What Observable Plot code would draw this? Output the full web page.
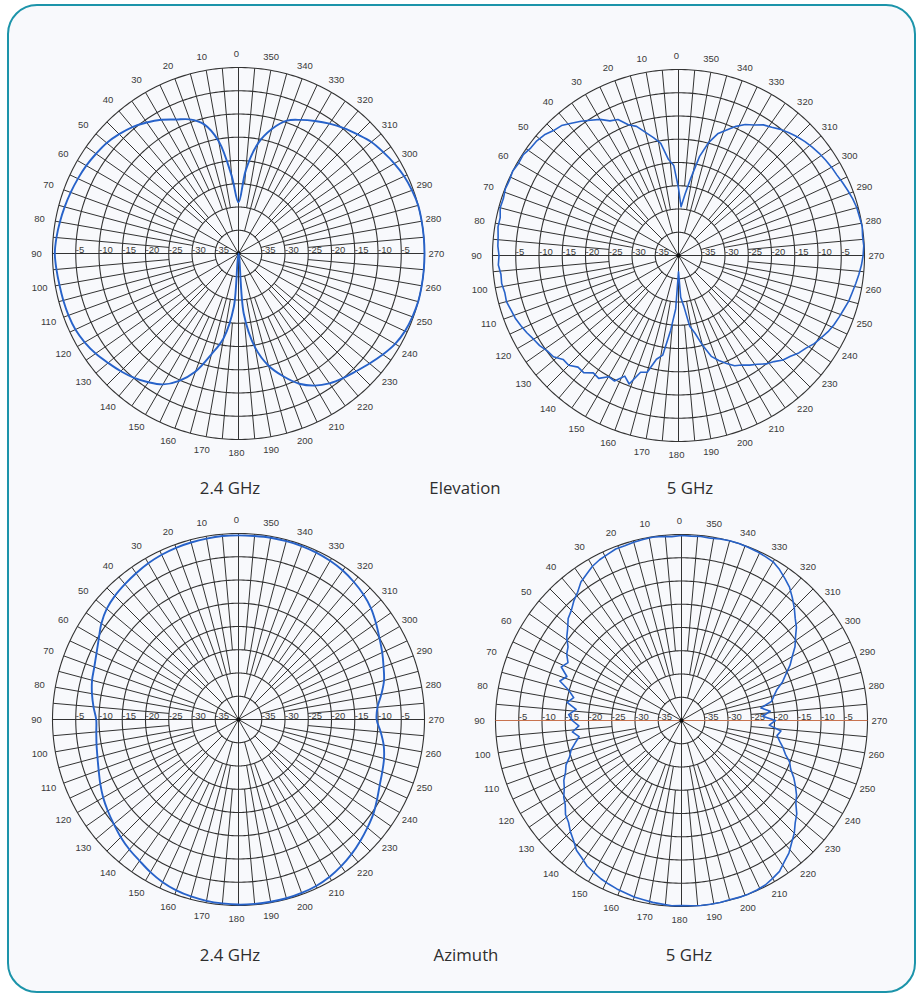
<!DOCTYPE html>
<html>
<head>
<meta charset="utf-8">
<script src="https://cdn.jsdelivr.net/npm/d3@7"></script>
<script src="https://cdn.jsdelivr.net/npm/@observablehq/plot@0.6"></script>
<style>
  html, body { margin: 0; padding: 0; background: #ffffff; }
  #page { position: relative; width: 916px; height: 994px; overflow: hidden; font-family: "Open Sans", sans-serif; }
  #frame { position: absolute; left: 7px; top: 4px; width: 909px; height: 989px; box-sizing: border-box;
           border: 2.5px solid #1c94aa; border-radius: 30px; background: #f8f9fc; }
  .chart { position: absolute; }
  .cap { position: absolute; font-size: 16.8px; color: #2e2e2e; transform: translate(-50%, -50%); white-space: nowrap; }
</style>
</head>
<body>
<div id="page"><div id="frame"></div></div>
<script>
// Antenna radiation patterns, relative gain in dB (0 dB at the rim, -40 dB at the centre).
// Angles run counter-clockwise from 0 at the top.

const angleTicks = [0, 10, 20, 30, 40, 50, 60, 70, 80, 90, 100, 110, 120, 130, 140, 150, 160, 170,
                    180, 190, 200, 210, 220, 230, 240, 250, 260, 270, 280, 290, 300, 310, 320, 330, 340, 350];
const ringTicks = [-5, -10, -15, -20, -25, -30, -35];
const ringLevels = [0, -5, -10, -15, -20, -25, -30, -35];

// 2.4 GHz sampled every 5 degrees
const angles24 = d3.range(0, 360, 5);
// 5 GHz sampled every 3 degrees
const angles5 = d3.range(0, 360, 3);

const elevation24 = [
  -29.0, -23.3, -15.5, -11.2, -9.3, -8.2, -6.8, -5.6, -4.5, -3.7, -3.0, -2.6,
  -2.2, -1.9, -1.6, -1.3, -1.0, -0.7, -0.5, -0.7, -0.9, -1.0, -1.1, -1.3,
  -1.8, -2.5, -3.4, -4.2, -5.1, -6.2, -7.5, -9.8, -13.0, -17.6, -21.5, -28.5,
  -40.0, -27.0, -19.5, -15.0, -11.9, -9.1, -7.2, -5.9, -5.0, -4.2, -3.2, -2.1,
  -1.1, -0.5, -0.2, 0.0, 0.0, 0.0, 0.0, 0.0, 0.0, 0.0, -0.3, -0.7,
  -1.3, -2.0, -2.7, -3.8, -4.8, -5.9, -7.1, -8.3, -9.6, -12.3, -16.0, -22.0
];

const elevation5 = [
  -25.5, -20.6, -19.2, -15.6, -14.1, -12.6, -10.8, -9.9, -8.0, -7.5, -6.2, -5.3,
  -4.3, -3.4, -2.4, -2.0, -1.2, -0.8, -0.7, -0.2, -0.3, 0.0, -0.2, -0.1,
  -0.4, -0.3, -0.8, -0.7, -1.0, -1.1, -1.4, -1.2, -1.6, -1.5, -1.8, -1.7,
  -2.1, -2.4, -2.9, -3.4, -4.0, -4.4, -5.1, -5.4, -6.6, -6.6, -7.7, -7.6,
  -8.8, -8.5, -9.9, -9.7, -11.6, -10.4, -13.6, -14.0, -17.2, -18.3, -23.8, -28.5,
  -36.5, -31.0, -29.0, -24.6, -22.9, -20.0, -17.2, -15.8, -14.6, -13.4, -12.8, -11.9,
  -11.1, -10.0, -9.3, -8.2, -7.6, -6.7, -6.1, -5.2, -4.6, -3.9, -3.4, -3.0,
  -2.6, -2.1, -1.8, -1.4, -1.0, -0.6, -0.3, -0.1, -0.2, 0.0, -0.2, -0.3,
  -0.6, -1.0, -1.4, -1.8, -2.0, -2.3, -2.6, -3.0, -3.4, -3.9, -4.5, -5.1,
  -5.9, -6.5, -7.6, -8.4, -9.6, -11.1, -12.4, -14.8, -18.2, -23.2, -26.8, -29.5
];

const azimuth24 = [
  -0.4, -0.4, -0.5, -0.6, -0.7, -0.9, -1.2, -1.6, -2.0, -2.4, -3.0, -4.0,
  -5.3, -6.3, -7.0, -7.4, -8.0, -8.7, -9.4, -9.3, -9.0, -8.6, -8.0, -7.2,
  -6.4, -5.7, -5.0, -4.2, -3.5, -2.9, -2.1, -1.4, -0.9, -0.6, -0.4, -0.3,
  -0.2, -0.2, -0.2, -0.2, -0.3, -0.5, -0.9, -1.5, -2.2, -3.0, -3.8, -4.6,
  -5.6, -6.5, -7.1, -7.6, -8.3, -9.3, -10.3, -10.0, -8.8, -7.6, -6.8, -5.9,
  -5.0, -3.9, -2.8, -2.0, -1.4, -0.9, -0.6, -0.4, -0.3, -0.3, -0.3, -0.4
];

const azimuth5 = [
  -0.2, -0.4, -0.2, -0.1, -0.2, -0.3, -0.5, -0.5, -0.9, -1.2, -1.7, -2.5,
  -3.2, -4.5, -5.4, -6.5, -7.2, -8.5, -9.5, -10.9, -11.5, -12.6, -11.7, -13.6,
  -12.5, -14.9, -16.3, -15.1, -17.2, -15.7, -16.5, -17.9, -16.4, -17.7, -16.6, -15.4,
  -14.7, -13.4, -12.7, -11.6, -10.9, -9.8, -9.1, -7.9, -7.3, -6.2, -5.3, -4.1,
  -3.5, -2.7, -2.3, -1.8, -1.5, -1.2, -1.0, -0.7, -0.6, -0.4, -0.3, -0.1,
  -0.2, -0.1, 0.0, 0.0, 0.0, -0.1, 0.0, 0.0, -0.1, -0.3, -0.8, -1.3,
  -2.4, -3.3, -4.6, -5.7, -7.1, -8.1, -9.6, -10.5, -11.7, -12.9, -14.3, -15.1,
  -16.5, -17.4, -18.4, -19.2, -18.5, -21.1, -19.8, -22.5, -20.8, -22.7, -20.2, -19.4,
  -18.4, -16.7, -15.4, -13.8, -12.5, -10.9, -9.7, -8.2, -7.1, -5.7, -4.4, -3.1,
  -2.2, -1.3, -0.6, -0.4, -0.2, -0.1, 0.0, 0.0, -0.1, -0.3, -0.2, -0.3
];

const FLOOR = -40;          // dB at the centre of each plot
const LABEL_RADIUS = 43;    // where the angle labels sit, in the same radial units

const rad = (deg) => deg * Math.PI / 180;
const px = (deg, r) => -r * Math.sin(rad(deg));
const py = (deg, r) => r * Math.cos(rad(deg));
const radial = (db) => Math.max(0, db - FLOOR);

function polarChart(angles, values, {curve, strokeWidth, axisColor}) {
  const pattern = angles.map((deg, i) => ({deg, db: values[i]}));

  const rings = ringLevels.flatMap((level) =>
    d3.range(0, 360, 1).map((deg) => ({level, deg})));

  // spokes: every 30 deg from the centre, then 15, 10 and 5 deg further out
  const spokes = d3.range(0, 360, 5).map((deg) => ({
    deg,
    from: deg % 30 === 0 ? 0 : deg % 15 === 0 ? 5 : deg % 10 === 0 ? 10 : 15
  }));

  const ringLabels = [-1, 1].flatMap((side) => ringTicks.map((db) => ({side, db})));

  return Plot.plot({
    width: 440,
    height: 440,
    margin: 34,
    x: {domain: [-40, 40], axis: null},
    y: {domain: [-40, 40], axis: null},
    style: {background: "transparent", overflow: "visible", fontFamily: "Arial, 'Liberation Sans', sans-serif"},
    marks: [
      Plot.link(spokes, {
        x1: (d) => px(d.deg, d.from), y1: (d) => py(d.deg, d.from),
        x2: (d) => px(d.deg, 40), y2: (d) => py(d.deg, 40),
        stroke: "#333333", strokeWidth: 1
      }),
      Plot.line(rings, {
        x: (d) => px(d.deg, d.level - FLOOR), y: (d) => py(d.deg, d.level - FLOOR),
        z: "level", curve: "linear-closed", stroke: "#333333", strokeWidth: 1.1
      }),
      Plot.link([{deg: 90}], {
        x1: (d) => px(d.deg, 40), y1: 0, x2: (d) => px(d.deg + 180, 40), y2: 0,
        stroke: axisColor, strokeWidth: 1.1
      }),
      Plot.dot([{x: 0, y: 0}], {x: "x", y: "y", r: 2, fill: "#111", stroke: null}),
      Plot.text(ringLabels, {
        x: (d) => d.side * (d.db - FLOOR), y: 0,
        text: (d) => String(d.db), textAnchor: "start", dy: -4, fontSize: 9.5, fill: "#3a3a3a"
      }),
      Plot.text(angleTicks, {
        x: (d) => px(d, LABEL_RADIUS), y: (d) => py(d, LABEL_RADIUS),
        text: (d) => String(d), dx: -2, fontSize: 9.5, fill: "#3a3a3a"
      }),
      Plot.line(pattern, {
        x: (d) => px(d.deg, radial(d.db)), y: (d) => py(d.deg, radial(d.db)),
        curve, stroke: "#2762c9", strokeWidth, strokeLinejoin: "round"
      })
    ]
  });
}

const page = document.getElementById("page");

const charts = [
  {angles: angles24, values: elevation24, cx: 238.3, cy: 252.5, curve: "catmull-rom-closed", strokeWidth: 1.9, axisColor: "#333333"},
  {angles: angles5, values: elevation5, cx: 678.3, cy: 254.5, curve: "linear-closed", strokeWidth: 1.6, axisColor: "#333333"},
  {angles: angles24, values: azimuth24, cx: 238.3, cy: 719.3, curve: "catmull-rom-closed", strokeWidth: 1.9, axisColor: "#333333"},
  {angles: angles5, values: azimuth5, cx: 681, cy: 720, curve: "linear-closed", strokeWidth: 1.6, axisColor: "#c8734f"}
];

for (const c of charts) {
  const svg = polarChart(c.angles, c.values, c);
  const wrap = document.createElement("div");
  wrap.className = "chart";
  wrap.style.left = (c.cx - 220) + "px";
  wrap.style.top = (c.cy - 220) + "px";
  wrap.appendChild(svg);
  page.appendChild(wrap);
}

const captions = [
  {text: "2.4 GHz", x: 230, y: 487},
  {text: "Elevation", x: 465, y: 487},
  {text: "5 GHz", x: 690, y: 487},
  {text: "2.4 GHz", x: 230, y: 954},
  {text: "Azimuth", x: 466, y: 954},
  {text: "5 GHz", x: 689, y: 954}
];
for (const c of captions) {
  const el = document.createElement("div");
  el.className = "cap";
  el.textContent = c.text;
  el.style.left = c.x + "px";
  el.style.top = c.y + "px";
  page.appendChild(el);
}
</script>
</body>
</html>
